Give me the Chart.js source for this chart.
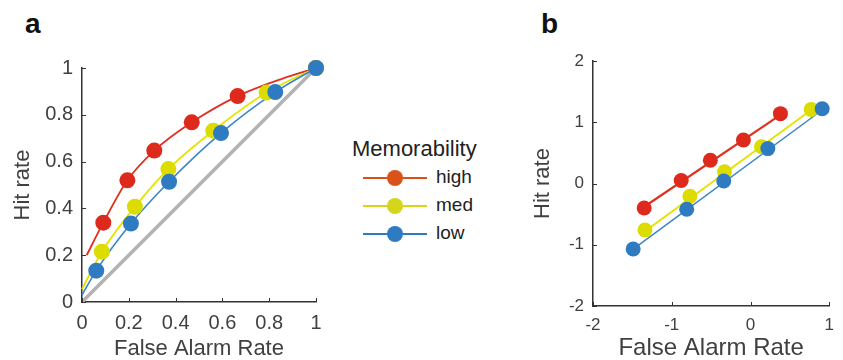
<!DOCTYPE html>
<html>
<head>
<meta charset="utf-8">
<script src="https://cdn.jsdelivr.net/npm/chart.js@4/dist/chart.umd.min.js"></script>
<style>
  body { margin: 0; background: #fff; font-family: "Liberation Sans", Arial, sans-serif; }
  #wrap { position: relative; width: 843px; height: 360px; overflow: hidden; }
  .panel { position: absolute; top: 0; height: 360px; }
  .tag { position: absolute; font-weight: bold; font-size: 28px; color: #111; }
  #legend { position: absolute; left: 352px; top: 136px; color: #222; }
  #legend .ttl { font-size: 22px; line-height: 26px; margin-bottom: 2px; }
  #legend .row { position: relative; height: 28px; }
  #legend .ln { position: absolute; left: 11px; top: 13px; width: 64px; height: 2px; }
  #legend .dot { position: absolute; left: 35px; top: 6px; width: 16px; height: 16px; border-radius: 50%; }
  #legend .lbl { position: absolute; left: 84px; top: 2px; font-size: 19px; }
</style>
</head>
<body>
<div id="wrap">
  <div class="tag" style="left:25px;top:8px;">a</div>
  <div class="tag" style="left:541px;top:8px;">b</div>
  <div class="panel" style="left:0;width:340px;"><canvas id="rocChart"></canvas></div>
  <div class="panel" style="left:520px;width:323px;"><canvas id="zChart"></canvas></div>
  <div id="legend"></div>
</div>
<script>
// уровни запоминаемости
const levels = ['high', 'med', 'low'];
const dotColors = ['#DD2A1C', '#DCDC00', '#2E7BC1'];
const lineColors = ['#E0301E', '#E4E400', '#3984CA'];
const legendColors = ['#D95319', '#D5D51C', '#2F7BC1'];

// панель a: ROC точки
const faHigh = [0.091, 0.194, 0.309, 0.469, 0.665, 1];
const hitHigh = [0.339, 0.520, 0.647, 0.768, 0.880, 1];
const faMed = [0.085, 0.226, 0.369, 0.561, 0.789, 1];
const hitMed = [0.215, 0.407, 0.568, 0.732, 0.895, 1];
const faLow = [0.061, 0.209, 0.372, 0.594, 0.826, 1];
const hitLow = [0.134, 0.335, 0.514, 0.722, 0.897, 1];

// панель a: подогнанные кривые
const curveFaHigh = [0.02, 0.091, 0.194, 0.309, 0.469, 0.665, 0.86, 1];
const curveHitHigh = [0.20, 0.339, 0.52, 0.647, 0.768, 0.88, 0.956, 1];
const curveFaMed = [0, 0.085, 0.226, 0.369, 0.561, 0.789, 1];
const curveHitMed = [0.055, 0.215, 0.407, 0.568, 0.732, 0.895, 1];
const curveFaLow = [0, 0.061, 0.209, 0.372, 0.594, 0.826, 1];
const curveHitLow = [0.03, 0.134, 0.335, 0.514, 0.722, 0.897, 1];
const chanceX = [0, 1];
const chanceY = [0, 1];

// панель b: z-преобразование
const zFaHigh = [-1.35, -0.88, -0.51, -0.09, 0.38];
const zHitHigh = [-0.40, 0.05, 0.38, 0.71, 1.14];
const zFaMed = [-1.34, -0.77, -0.33, 0.14, 0.77];
const zHitMed = [-0.76, -0.21, 0.19, 0.60, 1.21];
const zFaLow = [-1.49, -0.81, -0.34, 0.22, 0.91];
const zHitLow = [-1.07, -0.42, 0.04, 0.57, 1.22];
// линии регрессии (концы)
const fitFaHigh = [-1.35, 0.38];
const fitHitHigh = [-0.38, 1.12];
const fitFaMed = [-1.34, 0.77];
const fitHitMed = [-0.78, 1.20];
const fitFaLow = [-1.49, 0.91];
const fitHitLow = [-1.07, 1.20];

const pts = (xs, ys) => xs.map((x, i) => ({x, y: ys[i]}));

// тики внутрь, как в MATLAB
const inwardTicks = {
    id: 'inwardTicks',
    afterDatasetsDraw(chart) {
        const c = chart.ctx, a = chart.chartArea;
        c.save();
        c.strokeStyle = '#333';
        c.lineWidth = 1;
        chart.scales.x.ticks.forEach(t => {
            const px = Math.round(chart.scales.x.getPixelForValue(t.value)) + 0.5;
            c.beginPath(); c.moveTo(px, a.bottom); c.lineTo(px, a.bottom - 4); c.stroke();
        });
        chart.scales.y.ticks.forEach(t => {
            const py = Math.round(chart.scales.y.getPixelForValue(t.value)) + 0.5;
            c.beginPath(); c.moveTo(a.left, py); c.lineTo(a.left + 4, py); c.stroke();
        });
        c.restore();
    }
};

function axis(min, max, step, width, tickSize, titleText, titleSize, isY) {
    return {
        type: 'linear', min, max,
        grid: { display: true, drawOnChartArea: false, drawTicks: false },
        border: { display: true, color: '#333', width: 1.5 },
        ticks: {
            stepSize: step, color: '#404040', padding: 9,
            font: { size: tickSize, family: 'Liberation Sans' },
            callback: v => String(Number(v.toFixed(1)))
        },
        title: {
            display: true, text: titleText, color: '#404040',
            font: { size: titleSize, family: 'Liberation Sans', lineHeight: 1 },
            padding: isY ? { top: 12, bottom: 0 } : { top: 0, bottom: 0 }
        },
        afterFit: s => { if (isY) s.width = width; else s.height = width; }
    };
}

function baseOptions(pad, xAxis, yAxis) {
    return {
        responsive: true,
        maintainAspectRatio: false,
        animation: false,
        layout: { padding: pad },
        plugins: { legend: { display: false }, tooltip: { enabled: false } },
        scales: { x: xAxis, y: yAxis }
    };
}

const dotSet = (data, i, r, order) => ({
    type: 'scatter', data, order, showLine: false, clip: false,
    pointRadius: r, pointBackgroundColor: dotColors[i], pointBorderWidth: 0
});
const lineSet = (data, i, w, order, smooth) => ({
    type: 'line', data, order, clip: false, pointRadius: 0,
    borderColor: lineColors[i], borderWidth: w, fill: false,
    cubicInterpolationMode: smooth ? 'monotone' : 'default', tension: 0
});

// панель a
new Chart(document.getElementById('rocChart'), {
    type: 'scatter',
    data: {
        datasets: [
            dotSet(pts(faLow, hitLow), 2, 8, 0),
            dotSet(pts(faMed, hitMed), 1, 8, 1),
            dotSet(pts(faHigh, hitHigh), 0, 8, 2),
            lineSet(pts(curveFaLow, curveHitLow), 2, 1.6, 3, true),
            lineSet(pts(curveFaMed, curveHitMed), 1, 1.8, 4, true),
            lineSet(pts(curveFaHigh, curveHitHigh), 0, 1.8, 5, true),
            { type: 'line', data: pts(chanceX, chanceY), order: 6, pointRadius: 0,
              borderColor: '#B3B3B3', borderWidth: 3.5 }
        ]
    },
    options: baseOptions({ left: 0, top: 68, right: 24, bottom: 0 },
        axis(0, 1, 0.2, 58, 20, 'False Alarm Rate', 22, false),
        axis(0, 1, 0.2, 82, 20, 'Hit rate', 22, true)),
    plugins: [inwardTicks]
});

// панель b
new Chart(document.getElementById('zChart'), {
    type: 'scatter',
    data: {
        datasets: [
            dotSet(pts(zFaLow, zHitLow), 2, 7.5, 0),
            dotSet(pts(zFaMed, zHitMed), 1, 7.5, 1),
            dotSet(pts(zFaHigh, zHitHigh), 0, 7.5, 2),
            lineSet(pts(fitFaLow, fitHitLow), 2, 1.5, 3, false),
            lineSet(pts(fitFaMed, fitHitMed), 1, 2, 4, false),
            lineSet(pts(fitFaHigh, fitHitHigh), 0, 2.2, 5, false)
        ]
    },
    options: baseOptions({ left: 0, top: 61, right: 5, bottom: 0 },
        axis(-2, 1, 1, 54, 17, 'False Alarm Rate', 24, false),
        axis(-2, 2, 1, 73, 17, 'Hit rate', 22, true)),
    plugins: [inwardTicks]
});

// легенда
const leg = document.getElementById('legend');
leg.innerHTML = '<div class="ttl">Memorability</div>' + levels.map((name, i) =>
    `<div class="row"><div class="ln" style="background:${legendColors[i]}"></div>` +
    `<div class="dot" style="background:${legendColors[i]}"></div>` +
    `<div class="lbl">${name}</div></div>`).join('');
</script>
</body>
</html>
